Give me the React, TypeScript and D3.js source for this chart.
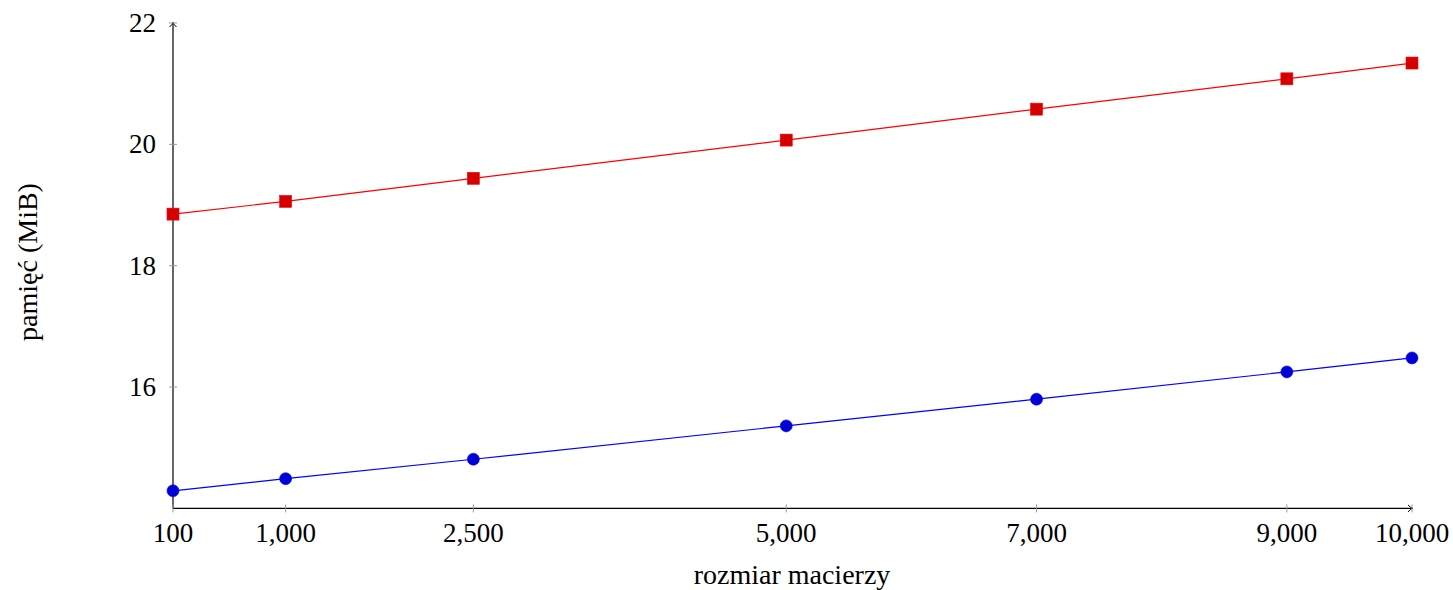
import { useEffect, useRef } from "react";
import * as d3 from "d3";

const sizes = [100, 1000, 2500, 5000, 7000, 9000, 10000];
const redSeries = [18.85, 19.06, 19.44, 20.07, 20.58, 21.08, 21.34];
const blueSeries = [14.29, 14.49, 14.81, 15.36, 15.80, 16.25, 16.48];
const yTicks = [16, 18, 20, 22];
const xTickLabels = ["100", "1,000", "2,500", "5,000", "7,000", "9,000", "10,000"];

const W = 1453;
const H = 590;
const FONT = "'Liberation Serif', 'DejaVu Serif', serif";

export default function App() {
  const svgRef = useRef<SVGSVGElement>(null);

  useEffect(() => {
    const svg = d3.select(svgRef.current);
    svg.selectAll("*").remove();

    const xScale = d3.scaleLinear().domain([100, 10000]).range([173, 1412]);
    const yScale = d3.scaleLinear().domain([14, 22]).range([508.4, 23]);

    // axes lines
    svg.append("line")
      .attr("x1", 173).attr("x2", 173)
      .attr("y1", yScale(14)).attr("y2", yScale(22) - 1)
      .attr("stroke", "#000").attr("stroke-width", 1.2);
    svg.append("line")
      .attr("x1", 173).attr("x2", xScale(10000) + 1)
      .attr("y1", yScale(14)).attr("y2", yScale(14))
      .attr("stroke", "#000").attr("stroke-width", 1.2);

    // arrow heads
    const ax = 173, ay = yScale(22);
    svg.append("path")
      .attr("d", `M${ax - 3.5},${ay + 4} Q${ax - 1},${ay + 1.5} ${ax},${ay} Q${ax + 1},${ay + 1.5} ${ax + 3.5},${ay + 4}`)
      .attr("fill", "none").attr("stroke", "#000").attr("stroke-width", 1);
    const bx = xScale(10000), by = yScale(14);
    svg.append("path")
      .attr("d", `M${bx - 4},${by - 3.5} Q${bx - 1.5},${by - 1} ${bx},${by} Q${bx - 1.5},${by + 1} ${bx - 4},${by + 3.5}`)
      .attr("fill", "none").attr("stroke", "#000").attr("stroke-width", 1);

    // x ticks
    const xt = svg.append("g");
    xt.selectAll("line")
      .data(sizes)
      .join("line")
      .attr("x1", d => xScale(d)).attr("x2", d => xScale(d))
      .attr("y1", yScale(14) - 4).attr("y2", yScale(14) + 4)
      .attr("stroke", "#999").attr("stroke-width", 1);
    xt.selectAll("text")
      .data(sizes)
      .join("text")
      .attr("x", d => xScale(d))
      .attr("y", 542)
      .attr("text-anchor", "middle")
      .style("font-family", FONT)
      .style("font-size", "27px")
      .text((d, i) => xTickLabels[i]);

    // y ticks
    const yt = svg.append("g");
    yt.selectAll("line")
      .data(yTicks)
      .join("line")
      .attr("x1", 169).attr("x2", 177)
      .attr("y1", d => yScale(d)).attr("y2", d => yScale(d))
      .attr("stroke", "#999").attr("stroke-width", 1);
    yt.selectAll("text")
      .data(yTicks)
      .join("text")
      .attr("x", 156)
      .attr("y", d => yScale(d) + 9)
      .attr("text-anchor", "end")
      .style("font-family", FONT)
      .style("font-size", "27px")
      .text(d => d);

    // axis labels
    svg.append("text")
      .attr("x", 792)
      .attr("y", 584)
      .attr("text-anchor", "middle")
      .style("font-family", FONT)
      .style("font-size", "28px")
      .text("rozmiar macierzy");
    svg.append("text")
      .attr("transform", "translate(37,262) rotate(-90)")
      .attr("text-anchor", "middle")
      .style("font-family", FONT)
      .style("font-size", "28px")
      .text("pamięć (MiB)");

    const line = d3.line<number>()
      .x((d, i) => xScale(sizes[i]))
      .y(d => yScale(d));

    // red series
    svg.append("path")
      .datum(redSeries)
      .attr("fill", "none")
      .attr("stroke", "#ff0000")
      .attr("stroke-width", 1.2)
      .attr("d", line);
    svg.append("g")
      .selectAll("rect")
      .data(redSeries)
      .join("rect")
      .attr("x", (d, i) => xScale(sizes[i]) - 6)
      .attr("y", d => yScale(d) - 6)
      .attr("width", 12).attr("height", 12)
      .attr("fill", "#d40000")
      .attr("stroke", "#ff0000")
      .attr("stroke-width", 0.6);

    // blue series
    svg.append("path")
      .datum(blueSeries)
      .attr("fill", "none")
      .attr("stroke", "#0000ff")
      .attr("stroke-width", 1.2)
      .attr("d", line);
    svg.append("g")
      .selectAll("circle")
      .data(blueSeries)
      .join("circle")
      .attr("cx", (d, i) => xScale(sizes[i]))
      .attr("cy", d => yScale(d))
      .attr("r", 6)
      .attr("fill", "#0000d4")
      .attr("stroke", "#0000ff")
      .attr("stroke-width", 0.6);
  }, []);

  return (
    <svg
      ref={svgRef}
      width={W}
      height={H}
      style={{ position: "absolute", left: 0, top: 0, background: "#fff" }}
    />
  );
}
